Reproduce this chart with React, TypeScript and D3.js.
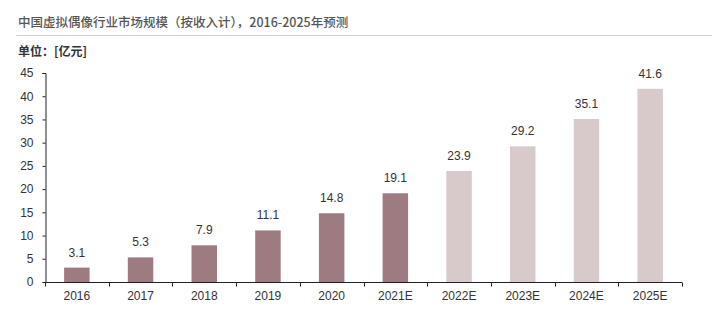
import * as d3 from 'd3';
import { useEffect, useRef } from 'react';

// Market size by year, in 亿元 (E = estimate)
const years = ['2016', '2017', '2018', '2019', '2020', '2021E', '2022E', '2023E', '2024E', '2025E'];
const values = [3.1, 5.3, 7.9, 11.1, 14.8, 19.1, 23.9, 29.2, 35.1, 41.6];
const yTicks = [0, 5, 10, 15, 20, 25, 30, 35, 40, 45];
// years drawn in the lighter forecast colour
const forecastYears = ['2022E', '2023E', '2024E', '2025E'];

const title = '中国虚拟偶像行业市场规模（按收入计），2016-2025年预测';
const unitLabel = '单位：[亿元]';

const App = () => {
  const ref = useRef<SVGSVGElement>(null);

  useEffect(() => {
    const svg = d3.select(ref.current);
    svg.selectAll('*').remove();

    const width = 712, height = 309;
    const left = 45, right = 682, top = 73, bottom = 282;
    const font = '"Liberation Sans", Arial, sans-serif';

    svg.attr('width', width).attr('height', height);
    svg.append('rect').attr('width', width).attr('height', height).attr('fill', '#fff');

    // heading and rule
    svg.append('text')
      .attr('x', 18).attr('y', 27)
      .attr('font-family', '"Noto Sans CJK SC", sans-serif')
      .attr('font-size', 12.5).attr('font-weight', 500)
      .attr('fill', '#555')
      .text(title);
    svg.append('line')
      .attr('x1', 16).attr('x2', width).attr('y1', 35.5).attr('y2', 35.5)
      .attr('stroke', '#cfcfcf').attr('stroke-width', 1);
    svg.append('text')
      .attr('x', 18).attr('y', 56)
      .attr('font-family', '"Noto Sans CJK SC", sans-serif')
      .attr('font-size', 12).attr('font-weight', 700)
      .attr('fill', '#333')
      .text(unitLabel);

    const x = d3.scaleBand<string>().domain(years).range([left, right]).paddingInner(0.6).paddingOuter(0.3);
    const y = d3.scaleLinear().domain([0, 45]).range([bottom, top]);

    // bars: actuals dark, forecasts light
    svg.append('g').selectAll('rect')
      .data(values)
      .enter()
      .append('rect')
      .attr('x', (_, i) => x(years[i])!)
      .attr('width', x.bandwidth())
      .attr('y', d => y(d))
      .attr('height', d => bottom - y(d))
      .attr('fill', (_, i) => (forecastYears.includes(years[i]) ? '#d8c9cb' : '#9e7b80'));

    // value labels
    svg.append('g').selectAll('text')
      .data(values)
      .enter()
      .append('text')
      .attr('x', (_, i) => x(years[i])! + x.bandwidth() / 2)
      .attr('y', d => y(d) - 11)
      .attr('text-anchor', 'middle')
      .attr('font-family', font)
      .attr('font-size', 12)
      .attr('fill', '#333')
      .text(d => d.toFixed(1));

    // y axis
    const yAxis = svg.append('g')
      .attr('transform', `translate(${left + 0.5},0)`)
      .call(d3.axisLeft(y).tickValues(yTicks).tickSize(3).tickPadding(9));
    yAxis.select('.domain').attr('stroke', '#222');
    yAxis.selectAll('line').attr('stroke', '#222');
    yAxis.selectAll('text').attr('font-family', font).attr('font-size', 12).attr('fill', '#333');

    // x axis with ticks at band edges
    const xAxis = svg.append('g')
      .attr('transform', `translate(0,${bottom + 0.5})`);
    xAxis.append('line')
      .attr('x1', left).attr('x2', right).attr('stroke', '#222');
    const edges = d3.range(years.length + 1).map(i => left + i * (right - left) / years.length);
    xAxis.selectAll('line.tick')
      .data(edges)
      .enter()
      .append('line')
      .attr('class', 'tick')
      .attr('x1', d => Math.round(d) + 0.5).attr('x2', d => Math.round(d) + 0.5)
      .attr('y1', 0).attr('y2', 4)
      .attr('stroke', '#222');
    xAxis.selectAll('text')
      .data(years)
      .enter()
      .append('text')
      .attr('x', d => x(d)! + x.bandwidth() / 2)
      .attr('y', 17)
      .attr('text-anchor', 'middle')
      .attr('font-family', font)
      .attr('font-size', 12)
      .attr('fill', '#333')
      .text(d => d);
  }, []);

  return <svg ref={ref} style={{ display: 'block', position: 'absolute', left: 0, top: 0 }}></svg>;
};

export default App;
